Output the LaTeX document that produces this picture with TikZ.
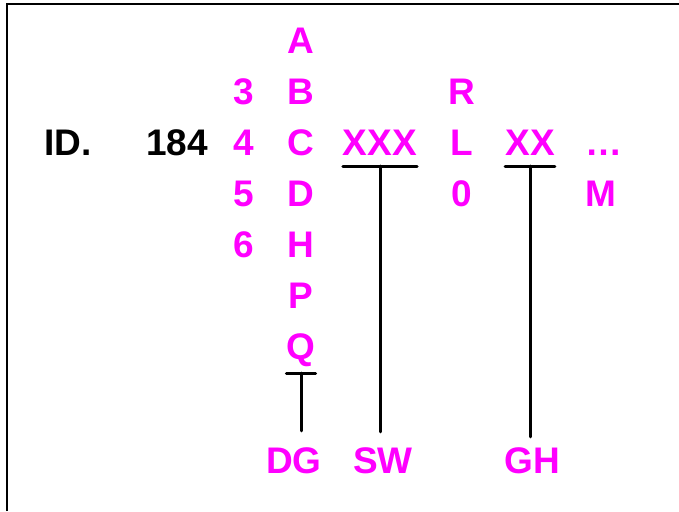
\documentclass[tikz,border=0pt]{standalone}
\usepackage{fontspec}
\setmainfont{Liberation Sans}
\usetikzlibrary{calc}
\definecolor{letterpink}{RGB}{255,0,255}
\begin{document}
\begin{tikzpicture}[x=1pt, y=-1pt,
	glyph/.style={anchor=base, inner sep=0, font=\fontsize{37}{37}\selectfont\bfseries, text=letterpink},
	code/.style={glyph, text=black},
	bar/.style={line width=3pt, line cap=round},
	stem/.style={line width=3pt, line cap=round}]
	\useasboundingbox (0,0) rectangle (679,511);
	\draw [line width=2.5pt] (7,511) -- (7,4) -- (679,4);
	\node [code] (id) at (68,155) {ID.};
	\node [code] (num) at (177,155) {184};
	\node [glyph] (c) at (301,155) {C};
	\node [glyph] (b) at ($(c.base) + (0,-51)$) {B};
	\node [glyph] (a) at ($(b.base) + (0,-51)$) {A};
	\node [glyph] (d) at ($(c.base) + (0,51)$) {D};
	\node [glyph] (h) at ($(d.base) + (0,51)$) {H};
	\node [glyph] (p) at ($(h.base) + (0,51)$) {P};
	\node [glyph] (q) at ($(p.base) + (0,51)$) {Q};
	\node [glyph] (four) at ($(c.base) + (-57,0)$) {4};
	\node [glyph] (three) at ($(four.base) + (0,-51)$) {3};
	\node [glyph] (five) at ($(four.base) + (0,51)$) {5};
	\node [glyph] (six) at ($(five.base) + (0,51)$) {6};
	\node [glyph] (xxx) at ($(c.base) + (79,0)$) {XXX};
	\node [glyph] (l) at ($(xxx.base) + (82,0)$) {L};
	\node [glyph] (r) at ($(l.base) + (0,-51)$) {R};
	\node [glyph] (zero) at ($(l.base) + (0,51)$) {0};
	\node [glyph] (xx) at ($(l.base) + (68,0)$) {XX};
	\node [glyph] (dots) at ($(xx.base) + (74,0)$) {…};
	\node [glyph] (m) at ($(dots.base) + (-3,51)$) {M};
	\node [glyph] (dg) at (294,473) {DG};
	\node [glyph] (sw) at (383,473) {SW};
	\node [glyph] (gh) at (532,473) {GH};
	
	\draw [bar] ($(q.base west)+(0,14)$) -- ($(q.base east)+(0,14)$);
	\draw [stem, shorten >=16pt] ($(q.base)+(0,14)$) -- (q.base |- dg.north);
	\draw [bar] ($(xxx.base west)+(0,11)$) -- ($(xxx.base east)+(0,11)$);
	\draw [stem, shorten >=15pt] ($(xxx.base)+(0,11)$) -- (xxx.base |- sw.north);
	\draw [bar] ($(xx.base west)+(0,11)$) -- ($(xx.base east)+(0,11)$);
	\draw [stem, shorten >=10pt] ($(xx.base)+(0,11)$) -- (xx.base |- gh.north);
\end{tikzpicture}
\end{document}
